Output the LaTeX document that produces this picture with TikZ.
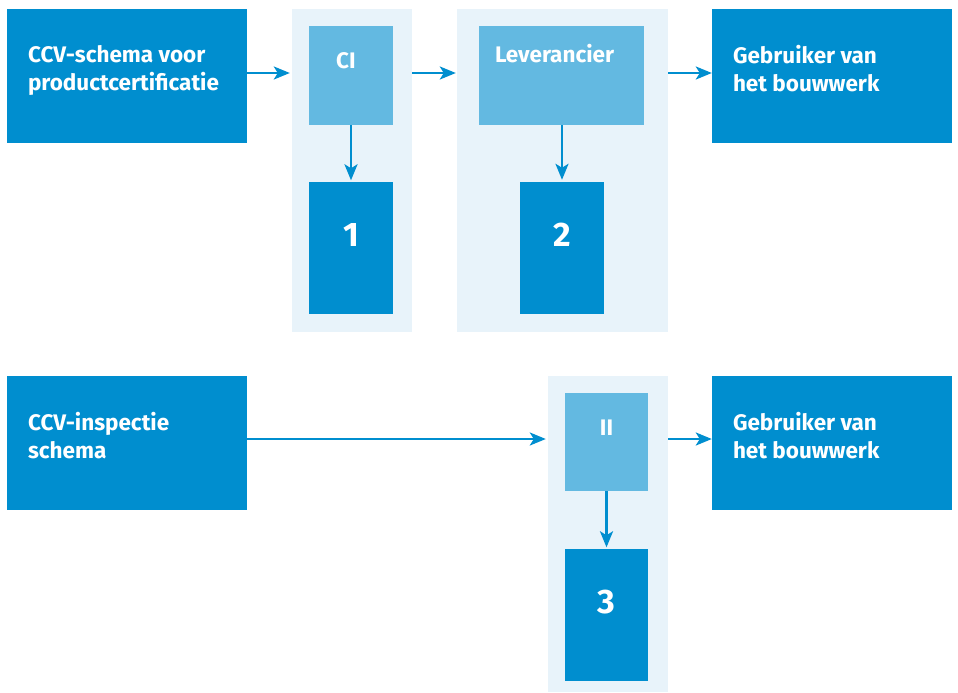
\documentclass[tikz,border=0pt]{standalone}
\usepackage{fontspec}
\setmainfont{Fira Sans}
\usepackage{tikz}
\usetikzlibrary{arrows.meta}
\definecolor{ccvblue}{RGB}{0, 142, 207}
\definecolor{stepblue}{RGB}{99, 185, 225}
\definecolor{panelblue}{RGB}{232, 243, 250}

\begin{document}
\begin{tikzpicture}[x=1pt, y=-1pt,
        wide/.style={fill=ccvblue, minimum width=240pt, minimum height=134pt, inner sep=0pt},
        panel/.style={fill=panelblue, inner sep=0pt},
        stepbox/.style={fill=stepblue, minimum width=84pt, minimum height=99pt, inner sep=0pt},
        numbox/.style={fill=ccvblue, minimum width=84pt, minimum height=132pt, inner sep=0pt},
        txt/.style={text=white, font=\bfseries\fontsize{22.5}{28}\selectfont, align=left, inner sep=0pt, anchor=north west},
        num/.style={text=white, font=\bfseries\fontsize{34}{40}\selectfont, inner sep=0pt},
        flow/.style={ccvblue, line width=2.6pt, -{Stealth[length=16pt, width=13pt, inset=4pt]}}]
        \useasboundingbox (0,0) rectangle (958,693);

        % 上排
        \node[wide, label={[txt, xshift=21pt, yshift=-36pt]north west:CCV-schema voor\\productcertificatie}] (schemaA) at (127,76) {};
        \node[panel, minimum width=120pt, minimum height=323pt] (pnlA) at (352,170.5) {};
        \node[stepbox, label={[txt, anchor=north, xshift=-5pt, yshift=-27pt]north:CI}] (ci) at (351,75.5) {};
        \node[numbox, label={[num, yshift=13pt]center:1}] (one) at (351,248) {};
        \node[panel, minimum width=211pt, minimum height=323pt] (pnlB) at (562.5,170.5) {};
        \node[stepbox, minimum width=165pt, label={[txt, xshift=16pt, yshift=-18pt]north west:Leverancier}] (lev) at (561.5,75.5) {};
        \node[numbox, label={[num, yshift=13pt]center:2}] (two) at (562,247.5) {};
        \node[wide, label={[txt, xshift=21pt, yshift=-36pt]north west:Gebruiker van\\het bouwwerk}] (userA) at (832,76) {};

        % 下排
        \node[wide, label={[txt, xshift=21pt, yshift=-36pt]north west:CCV-inspectie\\schema}] (schemaB) at (127,443) {};
        \node[panel, minimum width=120pt, minimum height=316pt] (pnlC) at (608,534) {};
        \node[stepbox, minimum width=83pt, minimum height=98pt, label={[txt, anchor=north, yshift=-27pt]north:II}] (ii) at (606.5,442) {};
        \node[numbox, minimum width=83pt, label={[num, yshift=13pt]center:3}] (three) at (606.5,615) {};
        \node[wide, label={[txt, xshift=21pt, yshift=-36pt]north west:Gebruiker van\\het bouwwerk}] (userB) at (832,443) {};

        % 箭头
        \coordinate (rowA) at ([yshift=3pt]schemaA.east);
        \coordinate (rowB) at ([yshift=4pt]schemaB.east);
        \draw[flow, shorten >=2pt] (rowA) -- (rowA -| pnlA.west);
        \draw[flow, shorten >=1pt] (rowA -| pnlA.east) -- (rowA -| pnlB.west);
        \draw[flow] (rowA -| pnlB.east) -- (rowA -| userA.west);
        \draw[flow, shorten >=1.5pt] (ci.south) -- (one.north);
        \draw[flow, shorten >=1.5pt] (lev.south -| two.north) -- (two.north);
        \draw[flow, shorten >=2pt] (rowB) -- (rowB -| pnlC.west);
        \draw[flow] (rowB -| pnlC.east) -- (rowB -| userB.west);
        \draw[flow, shorten >=1.5pt] (ii.south) -- (three.north);
\end{tikzpicture}
\end{document}
